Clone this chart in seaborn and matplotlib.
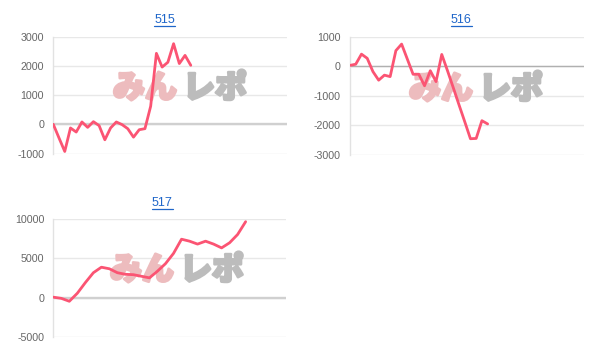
import matplotlib
matplotlib.use('Agg')
import matplotlib.pyplot as plt
import matplotlib.patheffects as pe
import seaborn as sns
import pandas as pd
from matplotlib.lines import Line2D

# ---------------- data ----------------
titles = ['515', '516', '517']
x_index = list(range(25))
v515 = [0, -470, -930, -125, -265, 80, -105, 90, -45, -530, -125, 80, -10, -150,
        -440, -185, -150, 620, 2430, 1960, 2125, 2760, 2080, 2360, 2020]
v516 = [30, 70, 410, 270, -180, -470, -300, -350, 530, 750, 240, -270, -270, -660,
        -150, -520, 400, -150, -720, -1300, -1870, -2450, -2440, -1840, -1950]
v517 = [50, -100, -470, 550, 1900, 3150, 3850, 3650, 3150, 2950, 2900, 2700, 2500,
        3350, 4300, 5600, 7400, 7150, 6780, 7150, 6780, 6300, 6950, 8000, 9620]
yticks515 = [3000, 2000, 1000, 0, -1000]
yticks516 = [1000, 0, -1000, -2000, -3000]
yticks517 = [10000, 5000, 0, -5000]
watermark_a = 'みん'
watermark_b = 'レポ'

# ---------------- style ----------------
sns.set_theme(style='white')
plt.rcParams['font.family'] = ['Liberation Sans', 'DejaVu Sans']

W, H = 604, 353
fig = plt.figure(figsize=(W / 100, H / 100), dpi=100)
fig.patch.set_facecolor('white')

LINE = '#fb5473'
TITLE_C = '#1f66c9'

panels = [
    dict(box=(53.3, 36.7, 287.0, 153.5), xmax=40.8, ylim=(-1000, 3000), ticks=yticks515,
         vals=v515, title=titles[0], tpos=(164.7, 19.8), wm=(180, 88), zero=('#d0d0d0', 1.7)),
    dict(box=(350.0, 36.7, 584.0, 155.0), xmax=40.8, ylim=(-3000, 1000), ticks=yticks516,
         vals=v516, title=titles[1], tpos=(461.2, 19.8), wm=(476, 89), zero=('#b0b0b0', 1.0)),
    dict(box=(53.3, 218.7, 285.7, 337.0), xmax=29.0, ylim=(-5000, 10000), ticks=yticks517,
         vals=v517, title=titles[2], tpos=(162.2, 202.5), wm=(177, 270), zero=('#d0d0d0', 1.7)),
]

title_texts = []
for p in panels:
    l, t, r, b = p['box']
    ax = fig.add_axes([l / W, 1 - b / H, (r - l) / W, (b - t) / H])
    df = pd.DataFrame({'x': x_index, 'y': p['vals']})
    sns.lineplot(data=df, x='x', y='y', ax=ax, color=LINE, linewidth=2.0, zorder=4)
    ax.set_xlim(0, p['xmax'])
    ax.set_ylim(*p['ylim'])
    ax.set_yticks(p['ticks'])
    ax.set_yticklabels([str(v) for v in p['ticks']])
    ax.set_xticks([])
    ax.set_xlabel('')
    ax.set_ylabel('')
    ax.tick_params(axis='y', length=0, pad=6.6, labelsize=7.7, labelcolor='#666666')
    ax.grid(axis='y', color='#e8e8e8', linewidth=1.0)
    ax.set_axisbelow(True)
    ax.axhline(0, color=p['zero'][0], linewidth=p['zero'][1], zorder=1.5)
    for s in ['top', 'right', 'bottom']:
        ax.spines[s].set_visible(False)
    ax.spines['left'].set_color('#e2e2e2')
    ax.spines['left'].set_linewidth(1.0)
    ax.patch.set_alpha(0)

    # watermark
    cx, cy = p['wm']
    def to_ax(px, py):
        return ((px - l) / (r - l), (b - py) / (b - t))
    for dx, txt, col in [(-35, watermark_a, '#edbcbe'), (35, watermark_b, '#bcbcbc')]:
        ax.text(*to_ax(cx + dx, cy), txt, transform=ax.transAxes, ha='center', va='center',
                fontsize=23, color=col, fontweight='heavy', zorder=2,
                family=['Noto Sans CJK JP', 'DejaVu Sans'], clip_on=False,
                path_effects=[pe.withStroke(linewidth=2.0, foreground=col)])

    tx, ty = p['tpos']
    tt = fig.text(tx / W, 1 - ty / H, p['title'], ha='center', va='center',
                  fontsize=9, color=TITLE_C)
    title_texts.append(tt)

fig.canvas.draw()
renderer = fig.canvas.get_renderer()
for tt in title_texts:
    bb = tt.get_window_extent(renderer)
    y = (bb.y0 - 0.5) / H
    fig.add_artist(Line2D([bb.x0 / W, bb.x1 / W], [y, y], transform=fig.transFigure,
                          color=TITLE_C, linewidth=0.9))

fig.savefig('out.png', dpi=100, facecolor='white')
